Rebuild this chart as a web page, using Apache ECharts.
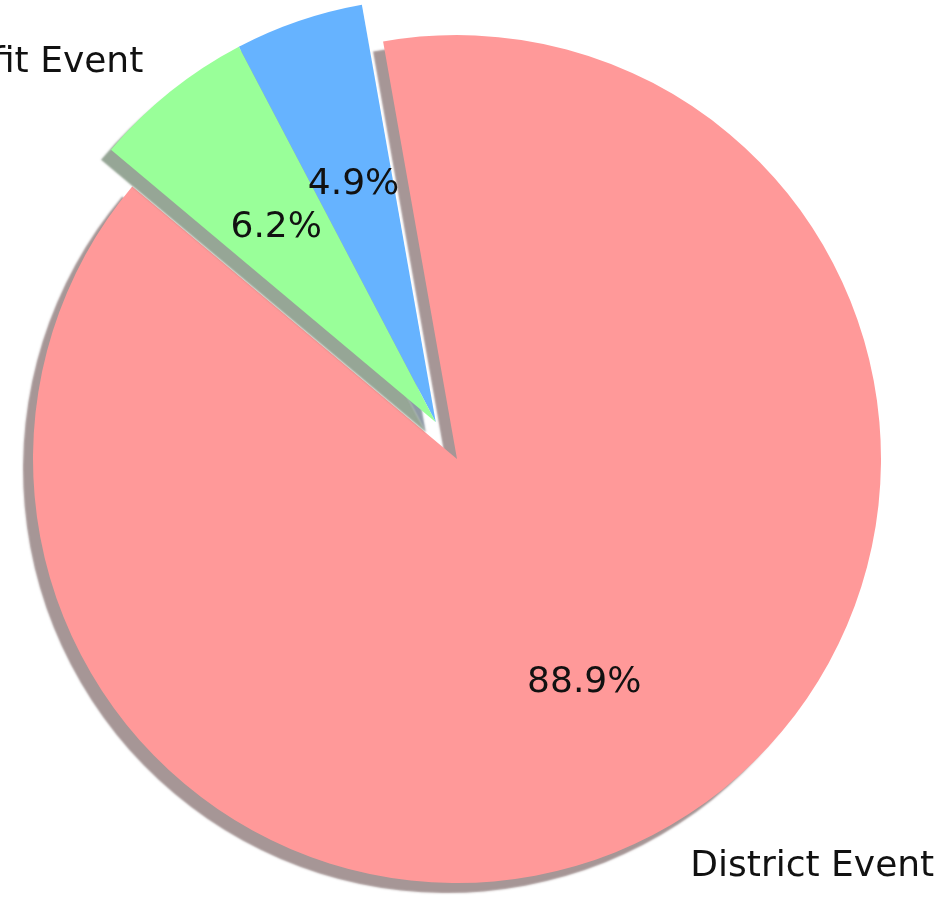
<!DOCTYPE html>
<html>
<head>
<meta charset="utf-8">
<script src="https://cdn.jsdelivr.net/npm/echarts@6/dist/echarts.min.js"></script>
<style>
    html, body { margin: 0; padding: 0; background: #fff; }
    #main { width: 946px; height: 900px; }
</style>
</head>
<body>
<div id="main"></div>
<script>
var dom = document.getElementById('main');
var myChart = echarts.init(dom);

// data, counter-clockwise from the start angle
var labels = ['District Event', 'Other Event', 'Benefit Event'];
var sizes = [88.9, 4.9, 6.2];
var colors = ['#ff9999', '#66b3ff', '#99ff99'];
var exploded = [false, true, true];   // blue + green are pulled out as one group
var showName = [true, false, true];   // the blue name falls above the crop

var startAngle = 140;
var cx = 457, cy = 459, R = 424;
var explodeFrac = 0.1;
var font = 'DejaVu Sans';
var fontSize = 36;

// direction of the pulled-out group = middle angle of the exploded slices
var total = sizes.reduce(function (a, b) { return a + b; }, 0);
var ang = startAngle, groupStart = null, groupEnd = null;
sizes.forEach(function (v, i) {
    var span = v / total * 360;
    if (exploded[i]) {
        if (groupStart === null) groupStart = ang;
        groupEnd = ang + span;
    }
    ang += span;
});
var mid = (groupStart + groupEnd) / 2 * Math.PI / 180;
var offX = explodeFrac * R * Math.cos(mid);
var offY = -explodeFrac * R * Math.sin(mid);

// shadow like matplotlib: 0.3 * face colour, alpha 0.5
function shadowOf(hex) {
    var c = echarts.color.parse(hex);
    return 'rgba(' + Math.round(c[0] * 0.3) + ',' + Math.round(c[1] * 0.3) + ',' + Math.round(c[2] * 0.3) + ',0.5)';
}

var textStyle = {
    color: '#111',
    fontFamily: font,
    fontSize: fontSize,
    fontWeight: 'normal',
    padding: [7, 0, 0, 0]   // nudge down a few px
};

// kind: 'slice' draws the wedges + name labels, 'pct' only places the % labels at 0.6R
function pieSeries(group, kind) {
    var center = group ? [cx + offX, cy + offY] : [cx, cy];
    var isSlice = kind === 'slice';
    return {
        type: 'pie',
        center: center,
        radius: isSlice ? [0, R] : [0.2 * R - 6, R],
        startAngle: startAngle,
        clockwise: false,
        avoidLabelOverlap: false,
        percentPrecision: 1,
        silent: true,
        animation: false,
        label: {
            position: isSlice ? 'outside' : 'inside',
            formatter: isSlice ? '{t|{b}}' : '{t|{d}%}',
            distanceToLabelLine: 0,
            color: '#111',
            fontFamily: font,
            fontSize: fontSize,
            textBorderWidth: 0,
            rich: { t: textStyle }
        },
        labelLine: { show: false, length: explodeFrac * R, length2: 0 },
        data: labels.map(function (name, i) {
            var mine = exploded[i] === group;
            return {
                name: name,
                value: sizes[i],
                itemStyle: {
                    color: (isSlice && mine) ? colors[i] : 'rgba(0,0,0,0)',
                    borderWidth: 0,
                    shadowColor: (isSlice && mine) ? shadowOf(colors[i]) : 'rgba(0,0,0,0)',
                    shadowBlur: 2,
                    shadowOffsetX: -10,
                    shadowOffsetY: 10
                },
                label: { show: mine && (isSlice ? showName[i] : true) }
            };
        })
    };
}

var option = {
    backgroundColor: '#ffffff',
    animation: false,
    series: [
        pieSeries(false, 'slice'),
        pieSeries(true, 'slice'),
        pieSeries(false, 'pct'),
        pieSeries(true, 'pct')
    ]
};
myChart.setOption(option);
</script>
</body>
</html>
